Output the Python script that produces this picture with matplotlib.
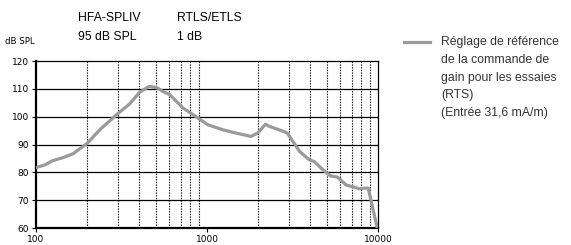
import numpy as np
import matplotlib
matplotlib.use("Agg")
import matplotlib.pyplot as plt
from matplotlib.ticker import FixedLocator, NullFormatter

# curve (Hz, dB SPL)
freq = [100, 113, 124, 144, 165, 200, 236, 296, 353, 404, 461, 513, 551, 606,
        724, 829, 1010, 1235, 1478, 1807, 1977, 2200, 2316, 2640, 2950, 3480,
        3960, 4230, 4730, 5280, 5780, 6500, 7770, 8300, 8770, 9900]
spl = [81.7, 82.7, 84.1, 85.3, 86.7, 90.5, 95.3, 100.7, 104.6, 108.8, 110.9,
       110.3, 109.1, 107.9, 103.1, 100.7, 97.1, 95.3, 94.1, 92.9, 94.1, 97.3,
       96.5, 95.3, 94.1, 87.5, 84.5, 83.9, 81.1, 78.7, 78.3, 75.5, 74.1, 74.3,
       74.3, 60.0]

y_ticks = [60, 70, 80, 90, 100, 110, 120]
x_major = [100, 1000, 10000]
x_minor = [200, 300, 400, 500, 600, 700, 800, 900,
           2000, 3000, 4000, 5000, 6000, 7000, 8000, 9000]

legend_lines = ["Réglage de référence", "de la commande de",
                "gain pour les essaies", "(RTS)", "(Entrée 31,6 mA/m)"]

W, H = 571, 245
fig = plt.figure(figsize=(W / 100, H / 100), dpi=100)
ax = fig.add_axes([36 / W, 1 - 228 / H, (378 - 36) / W, (228 - 61) / H])

ax.set_xscale("log")
ax.set_xlim(100, 10000)
ax.set_ylim(60, 120)

for y in y_ticks[1:-1]:
    ax.axhline(y, color="black", lw=0.9, zorder=1)
for x in x_minor:
    ax.axvline(x, color="black", lw=0.8, ls=(0, (1.2, 1.2)), zorder=1)

ax.plot(freq, spl, color="#9a9a9a", lw=2.3, solid_capstyle="round", zorder=3)

ax.xaxis.set_major_locator(FixedLocator(x_major))
ax.xaxis.set_minor_locator(FixedLocator(x_minor))
ax.xaxis.set_minor_formatter(NullFormatter())
ax.set_xticklabels([str(v) for v in x_major])
ax.set_yticks(y_ticks)
ax.tick_params(axis="both", labelsize=6.5, length=3, width=0.8, pad=2)
ax.tick_params(axis="x", which="minor", length=0)
for s in ["left", "bottom"]:
    ax.spines[s].set_linewidth(1.6)
for s in ["top", "right"]:
    ax.spines[s].set_linewidth(0.9)

cond = ["Liberation Sans", "DejaVu Sans"]
fig.text(5 / W, 1 - 41 / H, "dB SPL", fontsize=6.2, va="center", ha="left")
fig.text(78 / W, 1 - 18 / H, "HFA-SPLIV", fontsize=8.8, family=cond, va="center")
fig.text(78 / W, 1 - 37 / H, "95 dB SPL", fontsize=8.8, family=cond, va="center")
fig.text(177 / W, 1 - 18 / H, "RTLS/ETLS", fontsize=8.8, family=cond, va="center")
fig.text(177 / W, 1 - 37 / H, "1 dB", fontsize=8.8, family=cond, va="center")

fig.add_artist(plt.Line2D([404 / W, 430 / W], [1 - 42 / H, 1 - 42 / H],
                          color="#9a9a9a", lw=2.3))
for i, t in enumerate(legend_lines):
    fig.text(441 / W, 1 - (42 + 17.8 * i) / H, t, fontsize=8.8, family=cond,
             va="center", ha="left", color="#333333")

fig.savefig("out.png", dpi=100)
